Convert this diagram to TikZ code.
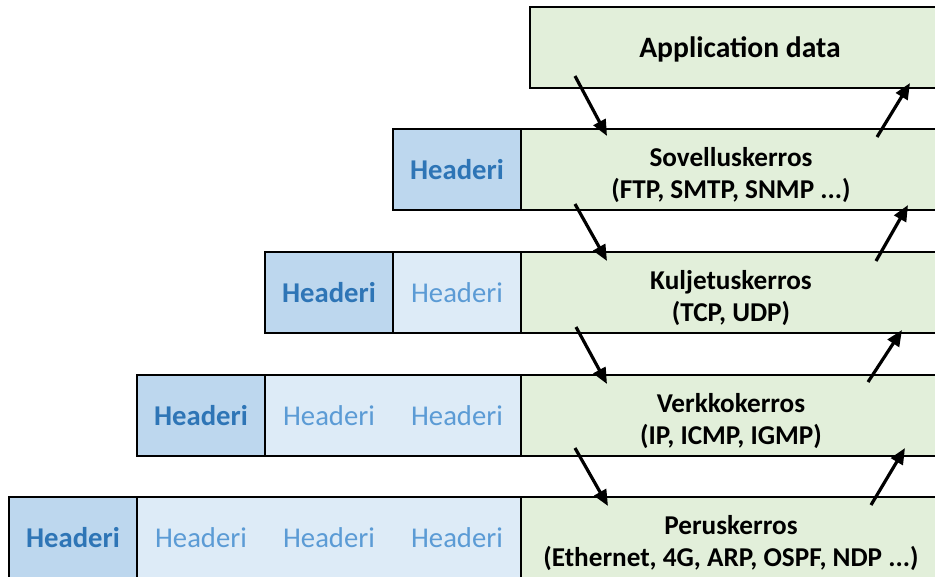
\documentclass[tikz,border=0pt]{standalone}
\usepackage{fontspec}
\setmainfont{Carlito}
\usetikzlibrary{positioning,arrows.meta}
\definecolor{layergreen}{HTML}{E2EFDA}
\definecolor{hdrdark}{HTML}{BDD7EE}
\definecolor{hdrlight}{HTML}{DDEBF7}
\definecolor{hdrtext}{HTML}{2E75B6}
\definecolor{hdrtextlight}{HTML}{5B9BD5}

\begin{document}
\begin{tikzpicture}[x=0.75pt, y=-0.75pt]
  \tikzset{
    box/.style={line width=1.5pt, outer sep=0pt, inner sep=0pt,
      minimum height=60.75pt, anchor=north west},
    layer/.style={box, draw, fill=layergreen, minimum width=315pt, align=center,
      text height=47pt, font=\bfseries\fontsize{20.4}{24}\selectfont},
    hdr/.style={box, draw, fill=hdrdark, minimum width=96pt, text=hdrtext,
      font=\bfseries\fontsize{21.5}{24}\selectfont},
    hdrlite/.style={box, fill=hdrlight, minimum width=96pt, text=hdrtextlight,
      font=\fontsize{21.5}{24}\selectfont},
    edge/.style={line width=1.5pt},
    flow/.style={-{Triangle[length=12pt,width=10pt]}, line width=2.4pt}
  }
  \useasboundingbox (0,0) rectangle (935,576);
  \clip (0,0) rectangle (935,576);

  \node[layer, text height=18.5pt, font=\bfseries\fontsize{22.2}{24}\selectfont] (app) at (530,7) {Application data};

  \node[layer] (sov) at (521,129) {Sovelluskerros\\(FTP, SMTP, SNMP ...)};
  \node[hdr, left=0pt of sov] (sovh) {Headeri};

  \node[layer] (kul) at (521,252) {Kuljetuskerros\\(TCP, UDP)};
  \node[hdrlite, left=0pt of kul] (kull1) {Headeri};
  \draw[edge] (kull1.north west) rectangle (kull1.south east);
  \node[hdr, left=0pt of kull1] (kulh) {Headeri};

  \node[layer] (verk) at (521,375) {Verkkokerros\\(IP, ICMP, IGMP)};
  \node[hdrlite, left=0pt of verk] (verkl2) {Headeri};
  \node[hdrlite, left=0pt of verkl2] (verkl1) {Headeri};
  \draw[edge] (verkl1.north west) rectangle (verkl2.south east);
  \node[hdr, left=0pt of verkl1] (verkh) {Headeri};

  \node[layer] (perus) at (521,497) {Peruskerros\\(Ethernet, 4G, ARP, OSPF, NDP ...)};
  \node[hdrlite, left=0pt of perus] (perusl3) {Headeri};
  \node[hdrlite, left=0pt of perusl3] (perusl2) {Headeri};
  \node[hdrlite, left=0pt of perusl2] (perusl1) {Headeri};
  \draw[edge] (perusl1.north west) rectangle (perusl3.south east);
  \node[hdr, left=0pt of perusl1] (perush) {Headeri};

  % down the stack
  \draw[flow] ([shift={(45,-12)}]app.south west) -- ([shift={(86,7)}]sov.north west);
  \draw[flow] ([shift={(54,-6)}]sov.south west) -- ([shift={(86,9)}]kul.north west);
  \draw[flow] ([shift={(55,-6)}]kul.south west) -- ([shift={(86,9)}]verk.north west);
  \draw[flow] ([shift={(54,-8)}]verk.south west) -- ([shift={(87,9)}]perus.north west);

  % up the stack
  \draw[flow] ([shift={(356,8)}]sov.north west) -- ([shift={(380,-5)}]app.south west);
  \draw[flow] ([shift={(355,9)}]kul.north west) -- ([shift={(387,-5)}]sov.south west);
  \draw[flow] ([shift={(347,7)}]verk.north west) -- ([shift={(381,-3)}]kul.south west);
  \draw[flow] ([shift={(350,8)}]perus.north west) -- ([shift={(384,-8)}]verk.south west);
\end{tikzpicture}
\end{document}
